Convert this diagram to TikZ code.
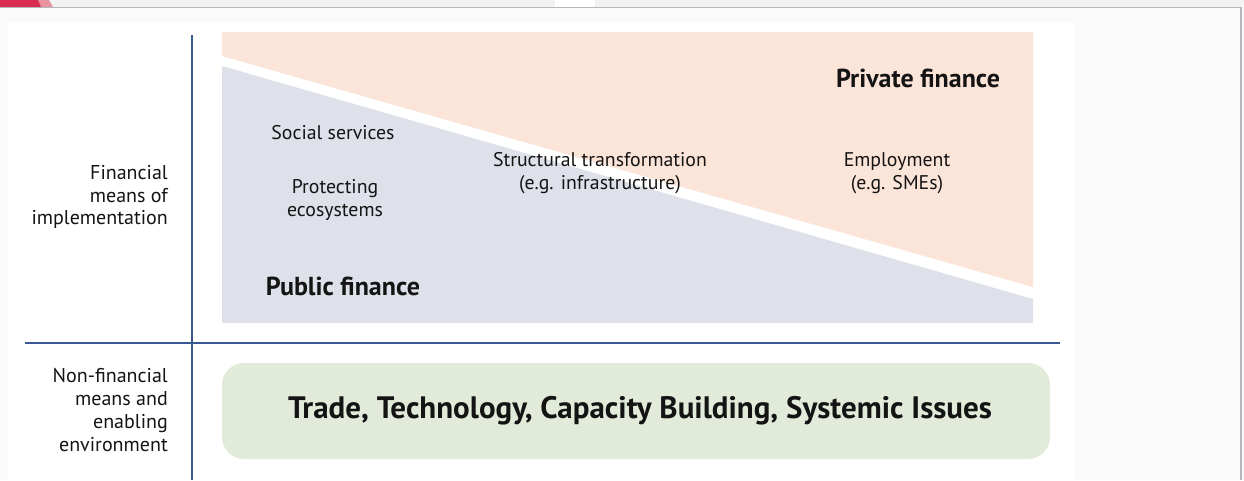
\documentclass[tikz,border=0pt]{standalone}
\usepackage{fontspec}
\setmainfont{PT Sans}
\definecolor{bgc}{HTML}{FAFAFA}
\definecolor{topgray}{HTML}{F2F2F2}
\definecolor{framegray}{HTML}{B4B8BC}
\definecolor{redc}{HTML}{D92E50}
\definecolor{pinkc}{HTML}{E8919F}
\definecolor{peach}{HTML}{FBE4D8}
\definecolor{bluegray}{HTML}{DEE1EA}
\definecolor{greenc}{HTML}{E2EBD9}
\definecolor{axisblue}{HTML}{3A5894}
\definecolor{txt}{HTML}{141414}
\tikzset{
  lbl/.style={text=txt, align=center, inner sep=0pt, font=\fontsize{19.8}{22.8}\selectfont},
  sidelbl/.style={text=txt, align=right, inner sep=0pt, anchor=east, font=\fontsize{20}{22.8}\selectfont},
  biglbl/.style={text=txt, inner sep=0pt, font=\fontsize{26}{30}\selectfont\bfseries},
  axis/.style={draw=axisblue, line width=2pt}
}
\begin{document}
\begin{tikzpicture}[x=1pt,y=-1pt]
\useasboundingbox (0,0) rectangle (1244,480);
% page background and frame
\fill[bgc] (0,0) rectangle (1244,480);
\fill[topgray] (0,0) rectangle (1244,7);
\fill[pinkc] (38,0) -- (49,0) -- (53,7) -- (41,7) -- cycle;
\fill[redc] (0,0) -- (38,0) -- (41,7) -- (0,7) -- cycle;
\fill[white] (555,0) rectangle (595,7);
\draw[framegray, line width=1.2pt] (0,7.5) -- (1241,7.5) -- (1241,480);
\fill[white] (8,23) rectangle (1075,480);
% finance areas
\fill[peach] (222,32) -- (1033,32) -- (1033,287) -- (222,56) -- cycle;
\fill[bluegray] (222,66) -- (1033,299) -- (1033,323) -- (222,323) -- cycle;
% green box
\node[fill=greenc, rounded corners=22pt, minimum width=828pt, minimum height=96pt, inner sep=0pt] (green) at (636,411) {};
% axes
\coordinate (vtop) at (192,35);
\coordinate (vbot) at (192,480);
\coordinate (hl) at (25,343);
\coordinate (hr) at (1060,343);
\draw[axis] (vtop) -- (vbot);
\draw[axis] (hl) -- (hr);
% texts
\node[biglbl] (private) at (918,78) {Private finance};
\node[biglbl] (public) at (343,286) {Public finance};
\node[lbl] (social) at (333,133) {Social services};
\node[lbl] (eco) at (335,200) {Protecting\\ecosystems};
\node[lbl] (struct) at (600,173) {Structural transformation\\(e.g. infrastructure)};
\node[lbl] (employ) at (897,173) {Employment\\(e.g. SMEs)};
\node[sidelbl] (fin) at (168,197) {Financial\\means of\\implementation};
\node[sidelbl] (nonfin) at (168,410) {Non-financial\\means and\\enabling\\environment};
\node[text=txt, inner sep=0pt, font=\fontsize{31}{36}\selectfont\bfseries] (trade) at (640,411) {Trade, Technology, Capacity Building, Systemic Issues};
\end{tikzpicture}
\end{document}
